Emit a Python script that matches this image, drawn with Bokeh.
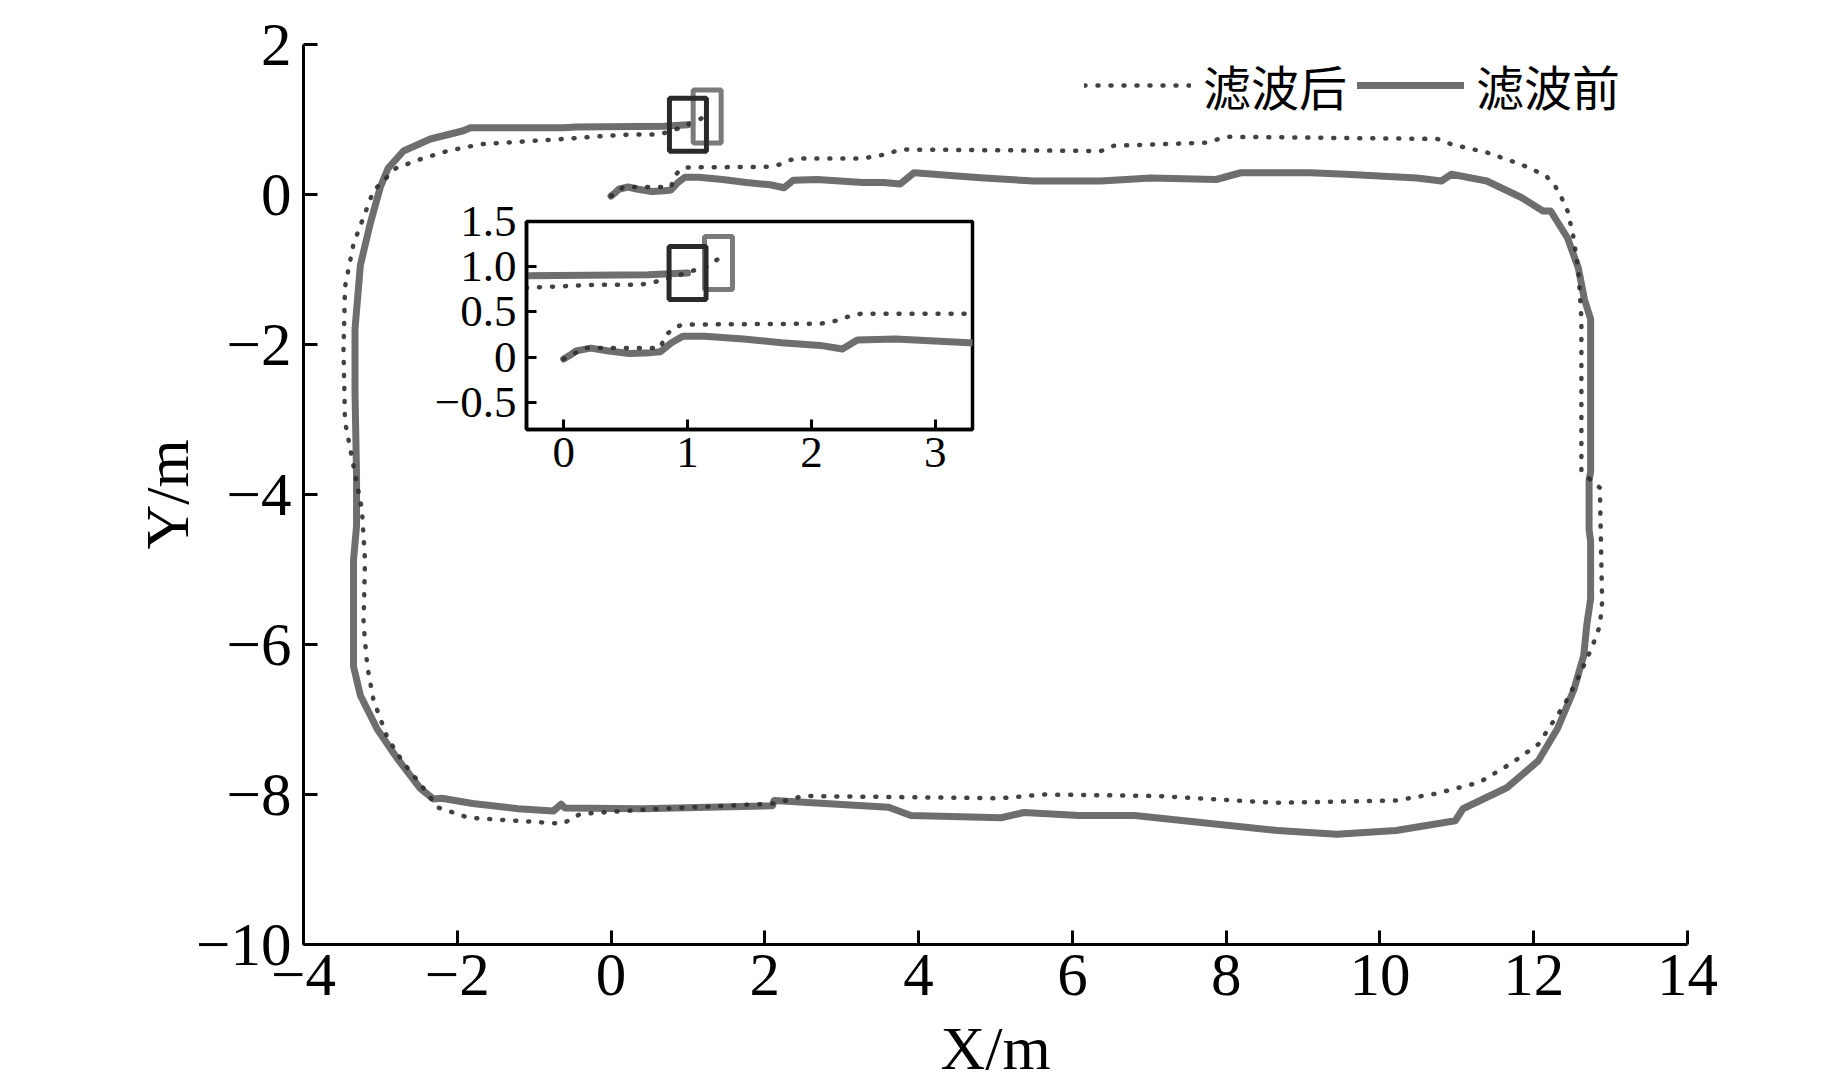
from bokeh.plotting import figure
from bokeh.models import Range1d, FixedTicker, Legend, LegendItem, Column
from bokeh.embed import file_html
from bokeh.resources import INLINE

# ---------------- data ----------------
# 滤波前 (before filtering) trajectory
before_x = [0.00, 0.05, 0.10, 0.22, 0.35, 0.53, 0.70, 0.78, 0.87, 0.96, 1.14, 1.45, 1.76, 2.07, 2.25, 2.37,
            2.68, 3.27, 3.55, 3.76, 3.94, 4.20, 4.85, 5.50, 6.37, 7.02, 7.87, 8.19, 9.10, 9.56, 10.48, 10.80,
            10.93, 11.39, 11.84, 12.12, 12.22, 12.44, 12.58, 12.66, 12.74, 12.74, 12.72, 12.72, 12.74, 12.74,
            12.69, 12.65, 12.52, 12.31, 12.06, 11.65, 11.08, 10.98, 10.21, 9.44, 8.67, 7.64, 6.81, 6.09, 5.37,
            5.07, 3.90, 3.61, 2.12, 2.10, 0.41, -0.60, -0.65, -0.75, -1.21, -1.80, -2.20, -2.31, -2.48, -2.78,
            -3.04, -3.26, -3.35, -3.35, -3.31, -3.31, -3.33, -3.33, -3.26, -3.13, -3.00, -2.90, -2.70, -2.35,
            -1.92, -1.83, -0.62, -0.45, 0.68, 1.00]
before_y = [-0.02, 0.02, 0.07, 0.10, 0.07, 0.04, 0.05, 0.06, 0.16, 0.23, 0.23, 0.20, 0.16, 0.13, 0.09, 0.19,
            0.20, 0.16, 0.16, 0.14, 0.29, 0.27, 0.22, 0.18, 0.18, 0.22, 0.20, 0.29, 0.29, 0.27, 0.22, 0.18,
            0.27, 0.18, -0.04, -0.22, -0.22, -0.58, -0.98, -1.40, -1.66, -3.70, -3.81, -4.47, -4.62, -5.39,
            -5.74, -6.15, -6.61, -7.12, -7.55, -7.91, -8.19, -8.35, -8.48, -8.53, -8.48, -8.37, -8.28, -8.28,
            -8.24, -8.31, -8.28, -8.17, -8.08, -8.15, -8.19, -8.18, -8.13, -8.22, -8.19, -8.12, -8.05, -8.06,
            -7.92, -7.52, -7.13, -6.68, -6.29, -4.88, -4.42, -3.76, -2.63, -1.79, -0.94, -0.38, 0.10, 0.35,
            0.58, 0.74, 0.85, 0.89, 0.89, 0.90, 0.91, 0.93]

# 滤波后 (after filtering) trajectory
after_x = [0.00, 0.10, 0.16, 0.78, 0.82, 0.90, 0.96, 2.07, 2.19, 2.30, 2.40, 3.27, 3.59, 3.76, 6.37, 6.54,
           7.73, 8.01, 10.75, 10.93, 11.39, 11.84, 12.16, 12.28, 12.37, 12.44, 12.51, 12.58, 12.62, 12.62,
           12.86, 12.89, 12.86, 12.76, 12.60, 12.40, 12.06, 11.88, 11.70, 11.29, 10.72, 10.21, 8.61, 7.12,
           5.63, 5.07, 2.50, 2.12, 0.47, -0.40, -0.63, -1.85, -2.26, -2.48, -2.70, -2.91, -3.09, -3.17,
           -3.22, -3.20, -3.24, -3.46, -3.48, -3.46, -3.35, -3.09, -2.80, -2.48, -2.13, -1.70, -0.62, -0.24,
           0.25, 0.62, 0.80, 1.17, 1.28]
after_y = [-0.02, 0.05, 0.10, 0.10, 0.24, 0.33, 0.36, 0.37, 0.40, 0.45, 0.48, 0.48, 0.54, 0.60, 0.58, 0.65,
           0.69, 0.77, 0.74, 0.67, 0.56, 0.40, 0.25, 0.11, -0.06, -0.22, -0.53, -1.00, -1.66, -3.70,
           -3.91, -5.44, -5.75, -6.03, -6.40, -6.80, -7.33, -7.46, -7.59, -7.84, -7.99, -8.08, -8.11, -8.02,
           -8.00, -8.05, -8.02, -8.12, -8.20, -8.26, -8.39, -8.31, -8.17, -7.86, -7.58, -7.24, -6.74, -6.29,
           -5.72, -4.88, -4.20, -3.03, -2.07, -1.23, -0.66, 0.05, 0.35, 0.47, 0.58, 0.67, 0.74, 0.77,
           0.80, 0.80, 0.85, 1.01, 1.12]

# end-position boxes: [滤波后, 滤波前]
box_x = [1.25, 1.00]
box_y = [1.04, 0.93]

series_labels = ["滤波后", "滤波前"]
x_title = "X/m"
y_title = "Y/m"

x_ticks = [-4, -2, 0, 2, 4, 6, 8, 10, 12, 14]
y_ticks = [2, 0, -2, -4, -6, -8, -10]
inset_x_ticks = [0, 1, 2, 3]
inset_y_ticks = [-0.5, 0, 0.5, 1.0, 1.5]
inset_y_tick_labels = ["\u22120.5", "0", "0.5", "1.0", "1.5"]

# ---------------- styles ----------------
SERIF = "Liberation Serif"
CJK = "Noto Sans CJK SC"
SOLID_COLOR = "#6e6e6e"
DOT_COLOR = "#2e2e2e"
BOX_COLORS = ["#7a7a7a", "#2a2a2a"]
BOX_W = [28, 37]
BOX_H = [53, 53]


def minus(v):
    return str(v).replace("-", "\u2212")


def draw_series(fig):
    r_before = fig.line(before_x, before_y, line_color=SOLID_COLOR, line_width=7,
                        line_join="round", line_cap="round")
    r_after = fig.line(after_x, after_y, line_color=DOT_COLOR, line_width=4.5,
                       line_dash="1 12", line_cap="round", line_alpha=0.9)
    fig.rect(x=box_x, y=box_y, width=BOX_W, height=BOX_H, width_units="screen",
             height_units="screen", fill_alpha=0, line_color=BOX_COLORS, line_width=5)
    return r_before, r_after


# ---------------- main figure ----------------
W, H = 1835, 1087
p = figure(width=W, height=H, output_backend="svg", toolbar_location=None,
           x_range=Range1d(-4, 14), y_range=Range1d(-10, 2),
           min_border_left=303, min_border_right=W - 303 - 1384,
           min_border_top=44, min_border_bottom=H - 44 - 900)
p.frame_align = False
p.outline_line_color = None
p.grid.visible = False
p.background_fill_color = "white"

r_before, r_after = draw_series(p)

for ax, ticks in ((p.xaxis[0], x_ticks), (p.yaxis[0], y_ticks)):
    ax.ticker = FixedTicker(ticks=ticks)
    ax.major_label_overrides = {t: minus(t) for t in ticks}
    ax.axis_line_width = 3
    ax.axis_line_color = "black"
    ax.major_tick_line_width = 3
    ax.major_tick_line_color = "black"
    ax.major_tick_in = 14
    ax.major_tick_out = 0
    ax.minor_tick_line_color = None
    ax.major_label_text_font = SERIF
    ax.major_label_text_font_size = "61px"
    ax.major_label_text_color = "black"
    ax.axis_label_text_font = SERIF
    ax.axis_label_text_font_size = "62px"
    ax.axis_label_text_font_style = "normal"
    ax.axis_label_text_color = "black"
p.xaxis[0].axis_label = x_title
p.yaxis[0].axis_label = y_title
p.xaxis[0].axis_label_standoff = 16
p.yaxis[0].axis_label_standoff = -8
p.xaxis[0].major_label_standoff = 10
p.yaxis[0].major_label_standoff = 12

legend = Legend(items=[LegendItem(label=series_labels[0], renderers=[r_after]),
                       LegendItem(label=series_labels[1], renderers=[r_before])],
                orientation="horizontal", location=(781, 824))
legend.label_text_font = CJK
legend.label_text_font_size = "48px"
legend.label_text_color = "black"
legend.glyph_width = 107
legend.glyph_height = 50
legend.label_height = 50
legend.label_standoff = 12
legend.spacing = 10
legend.padding = 0
legend.margin = 0
legend.border_line_color = None
legend.background_fill_alpha = 0
p.add_layout(legend)

# ---------------- inset figure ----------------
IFW, IFH = 446, 208
IBL, IBR, IBT, IBB = 110, 10, 30, 75
inset = figure(width=IBL + IFW + IBR, height=IBT + IFH + IBB,
               frame_width=IFW, frame_height=IFH,
               output_backend="svg", toolbar_location=None,
               x_range=Range1d(-0.3, 3.3), y_range=Range1d(-0.8, 1.5),
               min_border_left=IBL, min_border_right=IBR, min_border_top=IBT, min_border_bottom=IBB)
inset.frame_align = False
inset.grid.visible = False
inset.outline_line_color = "black"
inset.outline_line_width = 3.5
inset.outline_line_alpha = 1
inset.border_fill_alpha = 0
inset.background_fill_color = "white"
draw_series(inset)

inset.xaxis[0].ticker = FixedTicker(ticks=inset_x_ticks)
inset.yaxis[0].ticker = FixedTicker(ticks=inset_y_ticks)
inset.yaxis[0].major_label_overrides = dict(zip(inset_y_ticks, inset_y_tick_labels))
for ax in (inset.xaxis[0], inset.yaxis[0]):
    ax.axis_line_width = 3.5
    ax.axis_line_color = "black"
    ax.major_tick_line_width = 3
    ax.major_tick_line_color = "black"
    ax.major_tick_in = 10
    ax.major_tick_out = 0
    ax.minor_tick_line_color = None
    ax.major_label_text_font = SERIF
    ax.major_label_text_font_size = "45px"
    ax.major_label_text_color = "black"
inset.xaxis[0].major_label_standoff = 8
inset.yaxis[0].major_label_standoff = 10

# place the inset over the main figure (frame top-left at page ~ (526, 221))
inset.margin = (221 - IBT - H, 0, 0, 526 - IBL)

layout = Column(children=[p, inset], spacing=0)

open("out.html", "w").write(file_html(layout, INLINE))
